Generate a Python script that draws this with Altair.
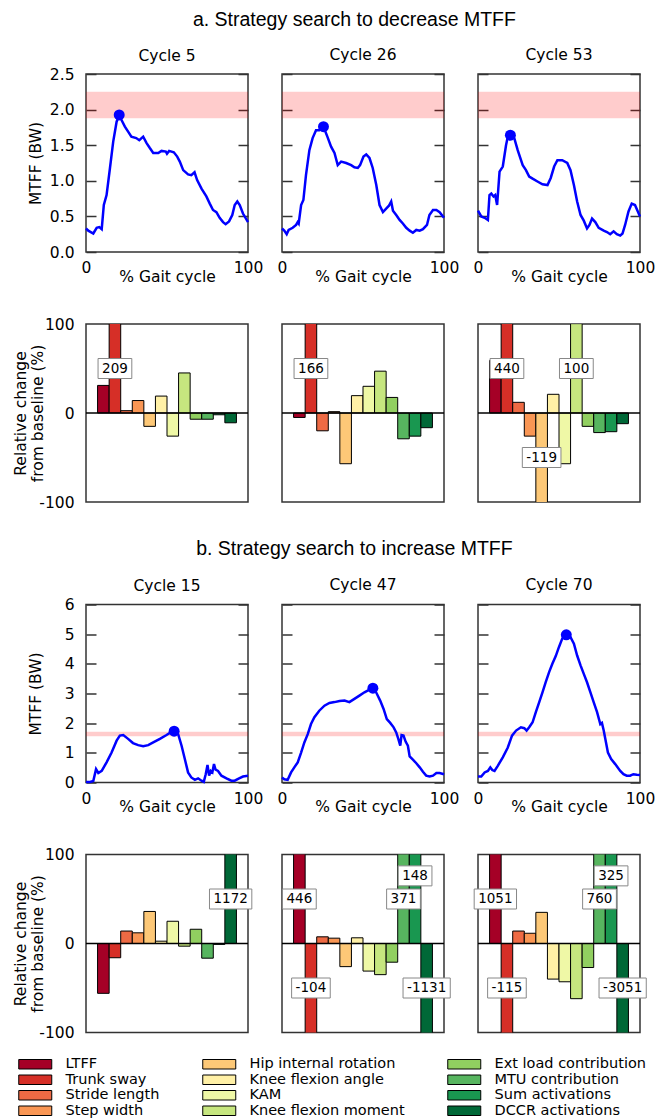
import altair as alt
import pandas as pd

# ---------------- data ----------------
CATEGORIES = ["LTFF", "Trunk sway", "Stride length", "Step width",
              "Hip internal rotation", "Knee flexion angle", "KAM",
              "Knee flexion moment", "Ext load contribution", "MTU contribution",
              "Sum activations", "DCCR activations"]
COLORS = ["#a50026", "#d62f27", "#ee6a44", "#f99654", "#fdc877", "#fff0a6",
          "#eff8a6", "#c6e67f", "#91cf60", "#57b55f", "#199750", "#006837"]

# MTFF curves (% gait cycle, MTFF in BW)
PCT_C5 = [0, 1.4, 4.5, 6.6, 8.2, 9.7, 11, 12.7, 14.8, 16.8, 18.9, 20.5, 22, 24, 26, 28, 31, 32.9, 35.3, 37.4,
          39.4, 41.5, 44.6, 46.6, 49.3, 50, 51.3, 54.2, 56.3, 57.9, 60, 63, 65, 67, 68.6, 71.3, 74.3, 76.4, 78.4, 80.5,
          82.5, 84.6, 86.2, 88.3, 90.3, 91.8, 93.4, 94.9, 96.9, 100]
MTFF_C5 = [0.33, 0.30, 0.26, 0.34, 0.35, 0.32, 0.66, 0.80, 1.18, 1.55, 1.83, 1.92, 1.85, 1.76, 1.69, 1.62, 1.60, 1.57, 1.62, 1.53,
           1.46, 1.39, 1.39, 1.42, 1.41, 1.38, 1.42, 1.40, 1.34, 1.27, 1.15, 1.09, 1.08, 1.12, 1.01, 0.89, 0.78, 0.68, 0.59, 0.56,
           0.48, 0.42, 0.39, 0.43, 0.52, 0.66, 0.71, 0.66, 0.54, 0.42]
PCT_C26 = [0, 1.4, 2.9, 4.1, 6.6, 8.7, 9.7, 10.3, 11.8, 13.2, 14.8, 16.9, 18.9, 21, 23, 25.6, 28, 30.3, 32.4, 34.4,
           36.5, 39.6, 42.7, 44.7, 46.8, 48.2, 50.3, 52, 54, 56, 58.2, 60.2, 62.3, 64.3, 66, 67.4, 68.5, 70.5, 72.6, 74.6,
           76.7, 78.8, 80.8, 82.9, 85, 87, 89.5, 91, 93.2, 95.3, 97.3, 100]
MTFF_C26 = [0.33, 0.30, 0.25, 0.31, 0.34, 0.38, 0.42, 0.40, 0.66, 0.73, 1.08, 1.43, 1.60, 1.71, 1.71, 1.76, 1.62, 1.48, 1.39, 1.22,
            1.27, 1.25, 1.22, 1.19, 1.18, 1.22, 1.34, 1.37, 1.32, 1.18, 0.94, 0.66, 0.56, 0.61, 0.65, 0.71, 0.58, 0.52, 0.45, 0.40,
            0.34, 0.30, 0.27, 0.31, 0.30, 0.32, 0.38, 0.52, 0.59, 0.59, 0.56, 0.48]
PCT_C53 = [0, 2, 4.1, 6.1, 7.1, 8.2, 9.6, 10.6, 11.8, 13.3, 15.3, 17.3, 18.4, 20.4, 22.4, 24.5, 27.6, 29.6, 31.6, 33.7,
           36.7, 39.8, 42.9, 44.9, 47, 49, 52, 55.1, 57.1, 59.2, 61.2, 63.3, 65.3, 67.3, 68.8, 70.4, 72.4, 74.5, 77.6, 79.6,
           81.6, 83.7, 85.7, 87.8, 89.2, 90.8, 92.9, 94.9, 96.9, 100]
MTFF_C53 = [0.58, 0.50, 0.48, 0.45, 0.80, 0.82, 0.78, 0.80, 0.66, 1.13, 1.20, 1.50, 1.62, 1.64, 1.60, 1.43, 1.22, 1.15, 1.06, 1.03,
            0.99, 0.95, 0.94, 1.04, 1.20, 1.29, 1.29, 1.25, 1.15, 0.94, 0.71, 0.52, 0.44, 0.33, 0.38, 0.47, 0.42, 0.34, 0.30, 0.28,
            0.25, 0.29, 0.25, 0.23, 0.26, 0.38, 0.57, 0.68, 0.66, 0.50]
PCT_C15 = [0, 2.5, 4.5, 6.2, 7.6, 9.7, 12.7, 15.8, 18.9, 20.9, 23, 26, 29, 32.2, 35.3, 38.4, 41.5, 45.6, 49.7, 52.2,
           54.4, 56.9, 59, 61, 63, 65, 67.2, 69.2, 71.3, 72.7, 73.9, 75, 76, 77, 78, 79, 80, 81.5, 83.6, 86.7,
           89.7, 91.8, 94.5, 96.9, 100]
MTFF_C15 = [0.02, 0.02, 0.05, 0.45, 0.32, 0.39, 0.68, 1.01, 1.41, 1.58, 1.60, 1.47, 1.33, 1.26, 1.22, 1.26, 1.35, 1.47, 1.60, 1.69,
            1.73, 1.63, 1.24, 0.79, 0.34, 0.17, 0.09, 0.14, 0.06, 0.02, 0.28, 0.59, 0.23, 0.39, 0.34, 0.62, 0.43, 0.39, 0.23, 0.14,
            0.06, 0.06, 0.14, 0.20, 0.23]
PCT_C47 = [0, 1.4, 3.5, 5.6, 7.6, 9.7, 11.8, 13.8, 15.9, 17.9, 20, 23, 26.2, 29.3, 32.4, 35.5, 38.6, 41.6, 44.7, 47.8,
           50.9, 54, 56.1, 58.1, 60.6, 62.7, 64.7, 66.8, 68.9, 70.5, 71.8, 73, 73.8, 75, 76.3, 77.7, 78.8, 80.8, 82.9, 85,
           87, 89, 91.1, 93.2, 95.3, 97.3, 100]
MTFF_C47 = [0.17, 0.11, 0.09, 0.34, 0.51, 0.68, 1.01, 1.35, 1.63, 1.97, 2.20, 2.42, 2.59, 2.68, 2.71, 2.75, 2.76, 2.71, 2.82, 2.93,
            3.04, 3.13, 3.18, 3.04, 2.76, 2.48, 2.14, 2.01, 1.86, 1.69, 1.47, 1.24, 1.60, 1.58, 1.38, 1.24, 0.88, 0.77, 0.65, 0.51,
            0.36, 0.23, 0.20, 0.23, 0.32, 0.32, 0.28]
PCT_C70 = [0, 2, 4.1, 6.1, 7.6, 8.8, 10.2, 12.2, 15.3, 18.4, 21, 23.5, 26.5, 28.6, 30, 31.6, 33.7, 35.7, 37.8, 39.8,
           41.8, 43.9, 45.9, 48, 50, 52, 54.5, 57.1, 59.2, 61.2, 63.3, 65.3, 67.3, 69.4, 71.4, 73.5, 75.5, 76.5, 77.6, 78.6,
           80.2, 82.2, 84.7, 87.8, 89.8, 91.8, 93.9, 95.9, 98, 100]
MTFF_C70 = [0.20, 0.20, 0.34, 0.39, 0.51, 0.42, 0.39, 0.56, 0.85, 1.18, 1.58, 1.75, 1.86, 1.83, 1.75, 1.86, 2.03, 2.37, 2.71, 3.04,
            3.38, 3.72, 4.00, 4.26, 4.57, 4.85, 4.98, 4.90, 4.68, 4.28, 3.95, 3.66, 3.38, 3.04, 2.71, 2.37, 1.97, 2.01, 1.75, 1.47,
            1.01, 0.79, 0.62, 0.39, 0.28, 0.23, 0.23, 0.28, 0.26, 0.25]

PEAK_C5 = (20.5, 1.925)
PEAK_C26 = (25.6, 1.76)
PEAK_C53 = (20.0, 1.64)
PEAK_C15 = (54.4, 1.73)
PEAK_C47 = (56.1, 3.18)
PEAK_C70 = (54.5, 4.98)

BAND_DECREASE = (1.88, 2.25)
BAND_INCREASE = (1.56, 1.71)

# relative change from baseline (%), one value per category
REL_C5 = [31, 209, 2.6, 14, -15, 19, -26, 45, -7, -7, -2, -11]
REL_C26 = [-5, 166, -20, 1.5, -57, 19.5, 30, 47, 17.5, -29, -26, -16.5]
REL_C53 = [59, 440, 12, -26, -119, 21, -57, 100.4, -15, -22, -21, -12]
REL_C15 = [-56, -16, 14, 12, 36, 2.6, 25, -3, 16, -16.5, -1, 1172]
REL_C47 = [446, -104, 7.5, 6, -26, 6.4, -31, -35, -21, 371, 148, -1131]
REL_C70 = [1051, -115, 14, 11.5, 35, -40, -43, -62, -27, 760, 325, -3051]

# ---------------- layout / style ----------------
W, H = 162, 178
FONT = "DejaVu Sans"
FS = 15.5
LABEL_FS = 13.5
NX = len(CATEGORIES) + 2
FRAME = alt.ViewBackground(stroke="#333333", strokeWidth=1.5)

color_scale = alt.Scale(domain=CATEGORIES, range=COLORS)
legend = alt.Legend(title=None, orient="none", legendX=-58, legendY=983, columns=3,
                    direction="vertical", symbolType="M-3.3,-0.95H3.3V0.95H-3.3Z",
                    symbolSize=100, symbolStrokeColor="black", symbolStrokeWidth=1,
                    symbolOpacity=1, labelFont=FONT, labelFontSize=14.5, labelColor="black",
                    labelOffset=23, columnPadding=40, rowPadding=0.5, labelLimit=400)


def line_panel(xs, ys, peak, band, ymax, ticks, fmt, first, title):
    xsc = alt.Scale(domain=[0, 100], nice=False, zero=False)
    ysc = alt.Scale(domain=[0, ymax], nice=False, zero=False)
    band_df = pd.DataFrame({"x0": [0], "x1": [100], "lo": [band[0]], "hi": [band[1]]})
    df = pd.DataFrame({"pct": xs, "mtff": ys})
    pk = pd.DataFrame({"px": [peak[0]], "py": [peak[1]]})
    left_axis = alt.Axis(orient="left", values=ticks, format=fmt, offset=-10, tickSize=10,
                         domain=False, labels=first, labelPadding=12,
                         title="MTFF (BW)" if first else "", titleX=-61, titleBaseline="middle")
    right_axis = alt.Axis(orient="right", values=ticks, offset=-10, tickSize=10,
                          domain=False, labels=False, title="")
    x_axis = alt.Axis(orient="bottom", values=[0, 100], format="d", title="% Gait cycle",
                      tickSize=0, domain=False, labelPadding=8.5, labelFlush=False,
                      labelOverlap=False, titleY=17, titleBaseline="top")
    band_l = alt.Chart(band_df).mark_rect(color="#ff0000", opacity=0.2).encode(
        x=alt.X("x0:Q", scale=xsc, axis=None), x2="x1:Q",
        y=alt.Y("lo:Q", scale=ysc, axis=right_axis), y2="hi:Q")
    line = alt.Chart(df).mark_line(color="#0000ff", strokeWidth=2.5).encode(
        x=alt.X("pct:Q", scale=xsc, axis=x_axis),
        y=alt.Y("mtff:Q", scale=ysc, axis=left_axis))
    dot = alt.Chart(pk).mark_circle(color="#0000ff", size=120, opacity=1).encode(
        x=alt.X("px:Q", scale=xsc, axis=None),
        y=alt.Y("py:Q", scale=ysc, axis=None))
    return alt.layer(band_l, line, dot).resolve_axis(x="independent", y="independent").properties(
        width=W, height=H, view=FRAME,
        title=alt.TitleParams(title, font=FONT, fontSize=FS, fontWeight="normal",
                              color="black", offset=3 if first else 10, anchor="middle",
                              frame="group"))


def bar_panel(vals, first):
    ysc = alt.Scale(domain=[-100, 100], nice=False, zero=False)
    xsc = alt.Scale(domain=[0, NX], nice=False, zero=False)
    df = pd.DataFrame({"cat": CATEGORIES, "x0": [i + 1 for i in range(len(CATEGORIES))],
                       "x1": [i + 2 for i in range(len(CATEGORIES))], "v": vals,
                       "zero": [0] * len(CATEGORIES)})
    rows = []
    prev = 0
    hh = 10 / (H / 200.0)
    for i, v in enumerate(vals):
        if abs(v) > 100:
            s = 1 if v > 0 else -1
            y = s * (76 if prev == s else 50)
            txt = str(int(round(v)))
            wpx = sum(0.361 if c == "-" else 0.636 for c in txt) * LABEL_FS + 8
            hw = wpx / 2 / (W / NX)
            xc = i + 1.5
            rows.append({"xc": xc, "lx0": xc - hw, "lx1": xc + hw, "ly": y,
                         "ly0": y - hh, "ly1": y + hh, "txt": txt})
            prev = s
        else:
            prev = 0
    lab = pd.DataFrame(rows)
    if first:
        yaxis = alt.Axis(orient="left", values=[-100, 0, 100], labelExpr="'' + datum.value",
                         tickSize=0, domain=False, labelPadding=12,
                         title=["Relative change", "from baseline (%)"], titleX=-66,
                         titleBaseline="middle")
    else:
        yaxis = None
    bars = alt.Chart(df).mark_bar(stroke="black", strokeWidth=1, clip=True).encode(
        x=alt.X("x0:Q", scale=xsc, axis=None), x2="x1:Q",
        y=alt.Y("v:Q", scale=ysc, axis=yaxis), y2="zero:Q",
        color=alt.Color("cat:N", scale=color_scale, legend=legend))
    zero = alt.Chart(pd.DataFrame({"z": [0]})).mark_rule(color="black", strokeWidth=1.5).encode(
        y=alt.Y("z:Q", scale=ysc, axis=None))
    box = alt.Chart(lab).mark_rect(fill="white", stroke="#888888", strokeWidth=1).encode(
        x=alt.X("lx0:Q", scale=xsc, axis=None), x2="lx1:Q",
        y=alt.Y("ly0:Q", scale=ysc, axis=None), y2="ly1:Q")
    text = alt.Chart(lab).mark_text(font=FONT, fontSize=LABEL_FS, color="black",
                                    baseline="middle", align="center").encode(
        x=alt.X("xc:Q", scale=xsc, axis=None),
        y=alt.Y("ly:Q", scale=ysc, axis=None), text="txt:N")
    return alt.layer(bars, zero, box, text).resolve_axis(x="independent", y="independent").properties(
        width=W, height=H, view=FRAME)


def spacer(h):
    return alt.Chart(pd.DataFrame({"s": [0]})).mark_point(opacity=0).encode(
        x=alt.X("s:Q", axis=None), y=alt.Y("s:Q", axis=None)).properties(width=W, height=h)


def block(lines, bars, title, offset):
    return alt.concat(*lines, spacer(2), spacer(2), spacer(2), *bars, columns=3,
                      spacing={"row": 35, "column": 34}, bounds="flush",
                      title=alt.TitleParams(title, font="Liberation Sans", fontSize=19.5,
                                            fontWeight="normal", color="black",
                                            anchor="middle", offset=offset, dx=20.5))


ta = [0, 0.5, 1.0, 1.5, 2.0, 2.5]
tb = [0, 1, 2, 3, 4, 5, 6]
block_a = block(
    [line_panel(PCT_C5, MTFF_C5, PEAK_C5, BAND_DECREASE, 2.5, ta, ".1f", True, "Cycle 5"),
     line_panel(PCT_C26, MTFF_C26, PEAK_C26, BAND_DECREASE, 2.5, ta, ".1f", False, "Cycle 26"),
     line_panel(PCT_C53, MTFF_C53, PEAK_C53, BAND_DECREASE, 2.5, ta, ".1f", False, "Cycle 53")],
    [bar_panel(REL_C5, True), bar_panel(REL_C26, False), bar_panel(REL_C53, False)],
    "a. Strategy search to decrease MTFF", 17)
block_b = block(
    [line_panel(PCT_C15, MTFF_C15, PEAK_C15, BAND_INCREASE, 6, tb, "d", True, "Cycle 15"),
     line_panel(PCT_C47, MTFF_C47, PEAK_C47, BAND_INCREASE, 6, tb, "d", False, "Cycle 47"),
     line_panel(PCT_C70, MTFF_C70, PEAK_C70, BAND_INCREASE, 6, tb, "d", False, "Cycle 70")],
    [bar_panel(REL_C15, True), bar_panel(REL_C47, False), bar_panel(REL_C70, False)],
    "b. Strategy search to increase MTFF", 18)

chart = alt.vconcat(block_a, block_b, spacing=26.5).properties(
    padding={"left": 12, "top": 9, "right": 0, "bottom": 0}
).configure(font=FONT).configure_view(stroke="transparent").configure_axis(
    labelFont=FONT, titleFont=FONT, labelFontSize=FS, titleFontSize=FS, labelColor="black",
    titleColor="black", titleFontWeight="normal", tickColor="#333333", tickWidth=1.5, grid=False)

chart.save("out.html", embed_options={"renderer": "svg", "actions": False})
